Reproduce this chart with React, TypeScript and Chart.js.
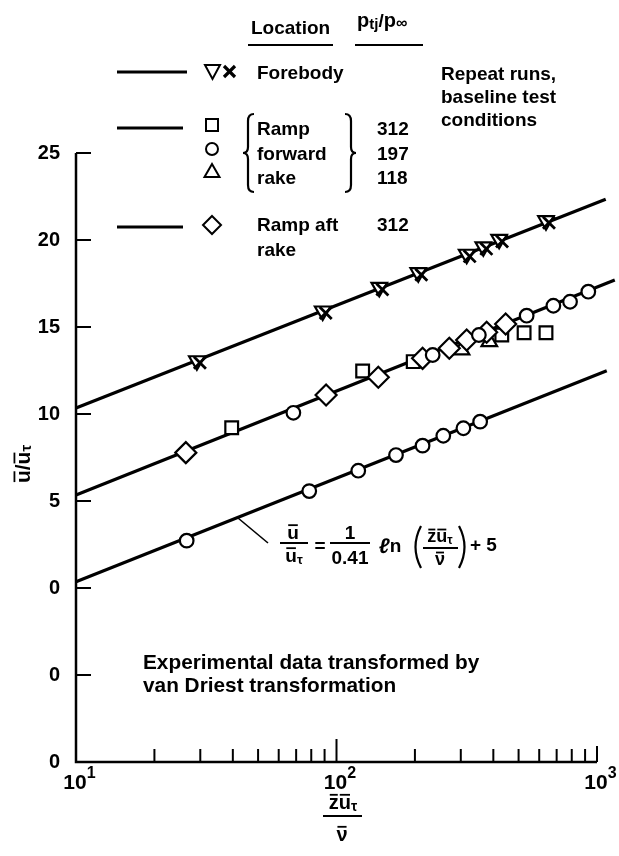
import React, { useEffect, useRef } from "react";
import { Chart, registerables } from "chart.js";

Chart.register(...registerables);

// ---------- axes ----------
const X_MIN = 10;
const X_MAX = 1000;
const Y_MIN = -10;
const Y_MAX = 25;
const yTickValues = [-10, -5, 0, 5, 10, 15, 20, 25];
const yTickLabels = ["0", "0", "0", "5", "10", "15", "20", "25"];
const xDecadeTicks = [10, 100, 1000];
const xDecadeExponents = ["1", "2", "3"];
const xMinorTicks = [20, 30, 40, 50, 60, 70, 80, 90, 200, 300, 400, 500, 600, 700, 800, 900];

// ---------- fitted lines (law of the wall, staggered) ----------
const topLineX = [10, 1080];
const topLineY = [10.34, 22.34];
const midLineX = [10, 1170];
const midLineY = [5.34, 17.7];
const botLineX = [10, 1090];
const botLineY = [0.36, 12.49];

// ---------- Forebody, repeat runs ----------
const forebodyTriX = [29.1, 88.5, 146, 206, 316, 366, 421, 637];
const forebodyTriY = [13.06, 15.92, 17.28, 18.12, 19.18, 19.61, 20.04, 21.11];
const forebodyCrossX = [29.9, 90.9, 150, 211.6, 324.5, 376, 432, 654];
const forebodyCrossY = [12.94, 15.8, 17.16, 18.0, 19.06, 19.49, 19.92, 20.99];

// ---------- Ramp forward rake ----------
const rampSquareX = [39.6, 126, 197, 431, 525, 637];
const rampSquareY = [9.21, 12.47, 13.01, 14.54, 14.67, 14.67];
const rampCircleX = [68.3, 234, 352, 537, 680, 788, 926, 1115];
const rampCircleY = [10.07, 13.39, 14.54, 15.65, 16.22, 16.45, 17.03, 17.55];
const rampTriX = [302, 386];
const rampTriY = [13.68, 14.16];

// ---------- Ramp aft rake ----------
const aftDiamondX = [26.4, 91.2, 144.7, 214, 271, 316, 377, 446];
const aftDiamondY = [7.78, 11.09, 12.11, 13.2, 13.78, 14.25, 14.7, 15.17];

// ---------- bottom curve ----------
const lowCircleX = [26.6, 78.6, 121.2, 169.2, 214, 257, 307, 356];
const lowCircleY = [2.72, 5.57, 6.74, 7.64, 8.18, 8.75, 9.18, 9.56];

const FONT = '"Liberation Sans", Arial, Helvetica, sans-serif';

const pts = (xs: number[], ys: number[]) => xs.map((x, i) => ({ x, y: ys[i] }));

type Run = { t: string; size: number; dy?: number; bar?: boolean; italic?: boolean };

function setFont(ctx: CanvasRenderingContext2D, size: number, italic = false) {
  ctx.font = `${italic ? "italic " : ""}bold ${size}px ${FONT}`;
}

function runsWidth(ctx: CanvasRenderingContext2D, runs: Run[]) {
  let w = 0;
  for (const r of runs) {
    setFont(ctx, r.size, r.italic);
    w += ctx.measureText(r.t).width;
  }
  return w;
}

// cy = visual centre line of the text row
function drawRuns(
  ctx: CanvasRenderingContext2D,
  runs: Run[],
  x: number,
  cy: number,
  align: "left" | "center" | "right" = "left"
) {
  const w = runsWidth(ctx, runs);
  let cx = align === "center" ? x - w / 2 : align === "right" ? x - w : x;
  ctx.textAlign = "left";
  ctx.textBaseline = "alphabetic";
  for (const r of runs) {
    setFont(ctx, r.size, r.italic);
    const base = cy + 0.36 * r.size + (r.dy || 0);
    ctx.fillText(r.t, cx, base);
    const rw = ctx.measureText(r.t).width;
    if (r.bar) {
      ctx.lineWidth = 1.8;
      ctx.beginPath();
      ctx.moveTo(cx + 1, base - 0.72 * r.size);
      ctx.lineTo(cx + rw - 1, base - 0.72 * r.size);
      ctx.stroke();
    }
    cx += rw;
  }
}

function seg(ctx: CanvasRenderingContext2D, x1: number, y1: number, x2: number, y2: number, lw: number) {
  ctx.lineWidth = lw;
  ctx.beginPath();
  ctx.moveTo(x1, y1);
  ctx.lineTo(x2, y2);
  ctx.stroke();
}

const decorPlugin = {
  id: "decor",
  beforeDatasetsDraw(chart: any) {
    const ctx: CanvasRenderingContext2D = chart.ctx;
    const xs = chart.scales.x;
    const ys = chart.scales.y;
    const a = chart.chartArea;
    ctx.save();
    ctx.strokeStyle = "#000";
    ctx.fillStyle = "#000";
    ctx.lineCap = "butt";
    // axes
    ctx.lineWidth = 2.5;
    ctx.beginPath();
    ctx.moveTo(a.left, ys.getPixelForValue(Y_MAX));
    ctx.lineTo(a.left, a.bottom);
    ctx.lineTo(xs.getPixelForValue(X_MAX), a.bottom);
    ctx.stroke();
    // y ticks (inward)
    for (const v of yTickValues) {
      const p = ys.getPixelForValue(v);
      seg(ctx, a.left, p, a.left + 15, p, 2);
    }
    // x ticks (inward)
    for (const v of xMinorTicks) {
      const p = xs.getPixelForValue(v);
      seg(ctx, p, a.bottom, p, a.bottom - 13, 2);
    }
    seg(ctx, xs.getPixelForValue(100), a.bottom, xs.getPixelForValue(100), a.bottom - 23, 2);
    seg(ctx, xs.getPixelForValue(1000), a.bottom, xs.getPixelForValue(1000), a.bottom - 16, 2);
    ctx.restore();
  },
  afterDraw(chart: any) {
    const ctx: CanvasRenderingContext2D = chart.ctx;
    const xs = chart.scales.x;
    const a = chart.chartArea;
    ctx.save();
    ctx.strokeStyle = "#000";
    ctx.fillStyle = "#000";

    // x tick labels 10^n
    xDecadeTicks.forEach((v, i) => {
      const p = xs.getPixelForValue(v);
      setFont(ctx, 21);
      const w10 = ctx.measureText("10").width;
      drawRuns(ctx, [{ t: "10", size: 21 }, { t: xDecadeExponents[i], size: 16, dy: -9 }], p - 1 - w10 / 2, a.bottom + 19, "left");
    });

    // x axis title (fraction)
    drawRuns(ctx, [{ t: "z", size: 20, bar: true }, { t: "u", size: 20, bar: true }, { t: "τ", size: 14, dy: 4 }], 343, 802, "center");
    seg(ctx, 323, 816, 362, 816, 2);
    drawRuns(ctx, [{ t: "ν", size: 20, bar: true }], 342, 834, "center");

    // y axis title (rotated)
    ctx.save();
    ctx.translate(22, 464);
    ctx.rotate(-Math.PI / 2);
    drawRuns(ctx, [{ t: "u", size: 21, bar: true }, { t: "/", size: 21 }, { t: "u", size: 21, bar: true }, { t: "τ", size: 15, dy: 4 }], 0, 0, "center");
    ctx.restore();

    // ---------- legend ----------
    drawRuns(ctx, [{ t: "Location", size: 19 }], 251, 27);
    seg(ctx, 248, 45, 333, 45, 2);
    drawRuns(ctx, [{ t: "p", size: 20 }, { t: "tj", size: 15, dy: 4 }, { t: "/", size: 19 }, { t: "p", size: 20 }, { t: "∞", size: 16, dy: 2 }], 357, 20);
    seg(ctx, 355, 45, 423, 45, 2);

    // Forebody row
    seg(ctx, 117, 72, 187, 72, 3);
    ctx.lineWidth = 2;
    ctx.beginPath();
    ctx.moveTo(205, 65);
    ctx.lineTo(220, 65);
    ctx.lineTo(212.5, 79);
    ctx.closePath();
    ctx.stroke();
    seg(ctx, 224, 66, 235, 77, 3.2);
    seg(ctx, 235, 66, 224, 77, 3.2);
    drawRuns(ctx, [{ t: "Forebody", size: 19 }], 257, 72);

    drawRuns(ctx, [{ t: "Repeat runs,", size: 19 }], 441, 73);
    drawRuns(ctx, [{ t: "baseline test", size: 19 }], 441, 96);
    drawRuns(ctx, [{ t: "conditions", size: 19 }], 441, 119);

    // Ramp forward rake rows
    seg(ctx, 117, 128, 183, 128, 3);
    ctx.lineWidth = 2;
    ctx.strokeRect(206, 119, 12, 12);
    ctx.beginPath();
    ctx.arc(212, 149, 6, 0, Math.PI * 2);
    ctx.stroke();
    ctx.beginPath();
    ctx.moveTo(212, 164);
    ctx.lineTo(219.5, 177);
    ctx.lineTo(204.5, 177);
    ctx.closePath();
    ctx.stroke();
    drawRuns(ctx, [{ t: "Ramp", size: 19 }], 257, 128);
    drawRuns(ctx, [{ t: "forward", size: 19 }], 257, 153);
    drawRuns(ctx, [{ t: "rake", size: 19 }], 257, 177);
    drawRuns(ctx, [{ t: "312", size: 19 }], 377, 128);
    drawRuns(ctx, [{ t: "197", size: 19 }], 377, 153);
    drawRuns(ctx, [{ t: "118", size: 19 }], 377, 177);
    // braces
    ctx.lineWidth = 2.2;
    ctx.beginPath();
    ctx.moveTo(254, 114);
    ctx.quadraticCurveTo(248, 114, 248, 121);
    ctx.lineTo(248, 147);
    ctx.quadraticCurveTo(248, 153, 243, 153);
    ctx.quadraticCurveTo(248, 153, 248, 159);
    ctx.lineTo(248, 185);
    ctx.quadraticCurveTo(248, 192, 254, 192);
    ctx.stroke();
    ctx.beginPath();
    ctx.moveTo(345, 114);
    ctx.quadraticCurveTo(351, 114, 351, 121);
    ctx.lineTo(351, 147);
    ctx.quadraticCurveTo(351, 153, 356, 153);
    ctx.quadraticCurveTo(351, 153, 351, 159);
    ctx.lineTo(351, 185);
    ctx.quadraticCurveTo(351, 192, 345, 192);
    ctx.stroke();

    // Ramp aft rake row
    seg(ctx, 117, 227, 183, 227, 3);
    ctx.lineWidth = 2;
    ctx.beginPath();
    ctx.moveTo(212, 216);
    ctx.lineTo(221, 225);
    ctx.lineTo(212, 234);
    ctx.lineTo(203, 225);
    ctx.closePath();
    ctx.stroke();
    drawRuns(ctx, [{ t: "Ramp aft", size: 19 }], 257, 224);
    drawRuns(ctx, [{ t: "312", size: 19 }], 377, 224);
    drawRuns(ctx, [{ t: "rake", size: 19 }], 257, 249);

    // ---------- equation annotation ----------
    seg(ctx, 238, 518, 268, 543, 1.6);
    drawRuns(ctx, [{ t: "u", size: 19, bar: true }], 293, 532, "center");
    seg(ctx, 280, 543, 308, 543, 2);
    drawRuns(ctx, [{ t: "u", size: 19, bar: true }, { t: "τ", size: 13, dy: 4 }], 294, 555, "center");
    drawRuns(ctx, [{ t: "=", size: 19 }], 320, 545, "center");
    drawRuns(ctx, [{ t: "1", size: 19 }], 350, 532, "center");
    seg(ctx, 330, 543, 370, 543, 2);
    drawRuns(ctx, [{ t: "0.41", size: 19 }], 350, 557, "center");
    drawRuns(ctx, [{ t: "ℓ", size: 21, italic: true }, { t: "n", size: 19 }], 379, 545);
    ctx.lineWidth = 2.2;
    ctx.beginPath();
    ctx.moveTo(421, 526);
    ctx.quadraticCurveTo(410, 547, 421, 568);
    ctx.stroke();
    ctx.beginPath();
    ctx.moveTo(459, 526);
    ctx.quadraticCurveTo(470, 547, 459, 568);
    ctx.stroke();
    drawRuns(ctx, [{ t: "z", size: 18, bar: true }, { t: "u", size: 18, bar: true }, { t: "τ", size: 12, dy: 4 }], 440, 536, "center");
    seg(ctx, 423, 548, 458, 548, 2);
    drawRuns(ctx, [{ t: "ν", size: 18, bar: true }], 440, 559, "center");
    drawRuns(ctx, [{ t: "+ 5", size: 19 }], 470, 544);

    // note
    drawRuns(ctx, [{ t: "Experimental data transformed by", size: 20.8 }], 143, 662);
    drawRuns(ctx, [{ t: "van Driest transformation", size: 20.8 }], 143, 685);

    ctx.restore();
  },
};

export default function App() {
  const ref = useRef<HTMLCanvasElement | null>(null);

  useEffect(() => {
    document.body.style.margin = "0";
    const canvas = ref.current;
    if (!canvas) return;
    const lineDs = (xs: number[], ys: number[]) => ({
      data: pts(xs, ys),
      showLine: true,
      borderColor: "#000",
      borderWidth: 3.2,
      pointRadius: 0,
      fill: false,
      clip: false as any,
      order: 10,
    });
    const markDs = (xs: number[], ys: number[], style: string, r: number, order: number, extra: any = {}) => ({
      data: pts(xs, ys),
      showLine: false,
      pointStyle: style,
      pointRadius: r,
      pointBorderColor: "#000",
      pointBackgroundColor: "#fff",
      pointBorderWidth: 2.2,
      borderColor: "#000",
      backgroundColor: "#fff",
      clip: false as any,
      order,
      ...extra,
    });

    const chart = new Chart(canvas, {
      type: "scatter",
      data: {
        datasets: [
          lineDs(topLineX, topLineY),
          lineDs(midLineX, midLineY),
          lineDs(botLineX, botLineY),
          markDs(forebodyTriX, forebodyTriY, "triangle", 9, 3, { pointRotation: 180, rotation: 180 }),
          markDs(forebodyCrossX, forebodyCrossY, "crossRot", 8.5, 1, { pointBorderWidth: 2.8 }),
          markDs(rampSquareX, rampSquareY, "rect", 9, 4),
          markDs(rampTriX, rampTriY, "triangle", 9, 4),
          markDs(aftDiamondX, aftDiamondY, "rectRot", 10.5, 3),
          markDs(rampCircleX, rampCircleY, "circle", 6.8, 2),
          markDs(lowCircleX, lowCircleY, "circle", 6.8, 2),
        ] as any,
      },
      options: {
        animation: false,
        responsive: false,
        devicePixelRatio: 1,
        layout: { padding: { top: 153, right: 22, left: 0, bottom: 0 } },
        plugins: {
          legend: { display: false },
          tooltip: { enabled: false },
          title: { display: false },
        },
        scales: {
          x: {
            type: "logarithmic",
            min: X_MIN,
            max: X_MAX,
            grid: { display: false },
            border: { display: false },
            ticks: { display: false },
            afterFit: (s: any) => {
              s.height = 94;
            },
          },
          y: {
            type: "linear",
            min: Y_MIN,
            max: Y_MAX,
            grid: { display: false, drawTicks: false },
            border: { display: false },
            ticks: {
              stepSize: 5,
              padding: 16,
              color: "#000",
              font: { family: FONT, size: 20, weight: "bold" },
              callback: (v: any) => {
                const i = yTickValues.indexOf(Number(v));
                return i >= 0 ? yTickLabels[i] : "";
              },
            },
            afterFit: (s: any) => {
              s.width = 76;
            },
          },
        },
      } as any,
      plugins: [decorPlugin],
    });
    return () => chart.destroy();
  }, []);

  return (
    <div style={{ width: 619, height: 856, background: "#fff" }}>
      <canvas ref={ref} width={619} height={856} style={{ width: 619, height: 856, display: "block" }} />
    </div>
  );
}
